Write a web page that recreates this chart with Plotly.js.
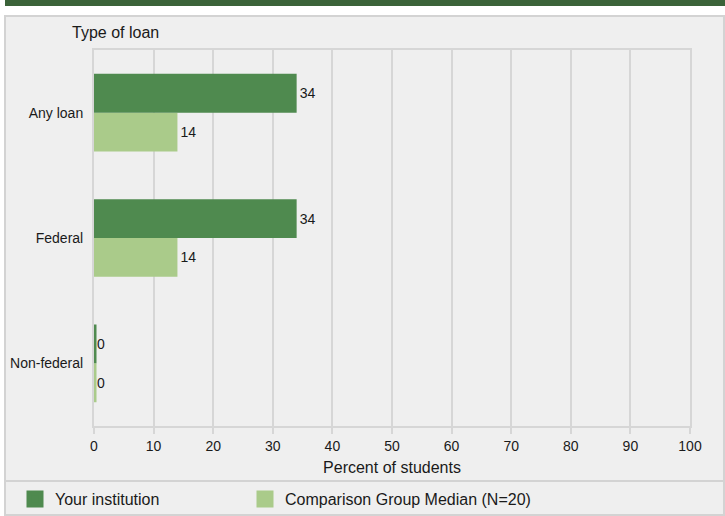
<!DOCTYPE html>
<html>
<head>
<meta charset="utf-8">
<script src="https://cdn.plot.ly/plotly-3.0.1.min.js"></script>
<style>html,body{margin:0;padding:0;background:#fff;}#chart{width:725px;height:516px;}</style>
</head>
<body>
<div id="chart"></div>
<script>
var categories = ["Any loan", "Federal", "Non-federal"];
var yourInstitution = [34, 34, 0];
var comparisonMedian = [14, 14, 0];
var seriesNames = ["Your institution", "Comparison Group Median (N=20)"];
var xTicks = [0, 10, 20, 30, 40, 50, 60, 70, 80, 90, 100];

var W = 725, H = 516, L = 94, R = 690, T = 50, B = 426;
function px(x){ return (x - L) / (R - L); }
function py(y){ return (B - y) / (B - T); }

var fontFam = "Arial, 'Liberation Sans', sans-serif";
var dark = "#4f8a4f", light = "#aacb8a", grid = "#d6d6d6", txt = "#1a1a1a";

// plot bottom-up so the first category ends at the top
var yCats = categories.slice().reverse();
var yourVals = yourInstitution.slice().reverse();
var compVals = comparisonMedian.slice().reverse();
// outline only on zero-value (blank) bars; it also sizes the legend swatch
function outline(vals){ return vals.map(function(v){ return v === 0 ? 5 : 0; }); }

var traces = [
  {type:"bar", orientation:"h", name:seriesNames[1], y:yCats, x:compVals,
   marker:{color:light, line:{color:light, width:outline(compVals)}},
   text:compVals.map(String), textposition:"outside",
   cliponaxis:false, textfont:{size:14, color:txt, family:fontFam}, hoverinfo:"x+y", legend:"legend2"},
  {type:"bar", orientation:"h", name:seriesNames[0], y:yCats, x:yourVals,
   marker:{color:dark, line:{color:dark, width:outline(yourVals)}},
   text:yourVals.map(String), textposition:"outside",
   cliponaxis:false, textfont:{size:14, color:txt, family:fontFam}, hoverinfo:"x+y", legend:"legend"}
];

var legendBase = {orientation: "h", xref: "container", yref: "container", xanchor: "left",
                  y: 1 - 499/H, yanchor: "middle", font: {size: 16, color: txt, family: fontFam},
                  bgcolor: "rgba(0,0,0,0)", borderwidth: 0};

var layout = {
  width: W, height: H,
  margin: {l: L, r: W - R, t: T, b: H - B, pad: 0, autoexpand: false},
  paper_bgcolor: "#ffffff",
  plot_bgcolor: "rgba(0,0,0,0)",
  font: {family: fontFam, size: 14, color: txt},
  barmode: "group", bargap: 0.38, bargroupgap: 0,
  xaxis: {range: [0, 100], tickvals: xTicks, ticktext: xTicks.map(String), showgrid: true,
          gridcolor: grid, gridwidth: 2, zeroline: false, showline: true, linecolor: grid, linewidth: 2,
          mirror: true, ticks: "outside", ticklen: 6, tickwidth: 2, tickcolor: grid,
          tickfont: {size: 14, color: txt, family: fontFam}, fixedrange: true,
          title: {text: "Percent of students", font: {size: 16, color: txt, family: fontFam}, standoff: 9}},
  yaxis: {type: "category", categoryorder: "array", categoryarray: yCats, showgrid: false, zeroline: false,
          showline: true, linecolor: grid, linewidth: 2, mirror: true, ticks: "",
          ticklabelstandoff: 6, tickfont: {size: 14, color: txt, family: fontFam}, fixedrange: true},
  showlegend: true,
  legend: Object.assign({}, legendBase, {x: 15/W}),
  legend2: Object.assign({}, legendBase, {x: 245/W}),
  annotations: [
    {text: "Type of loan", xref: "paper", yref: "paper", x: px(70), y: py(33),
     xanchor: "left", yanchor: "middle", showarrow: false,
     font: {size: 16, color: txt, family: fontFam}}
  ],
  shapes: [
    {type: "rect", xref: "paper", yref: "paper", x0: px(5), x1: px(724), y0: py(515), y1: py(16),
     fillcolor: "#efefef", line: {color: "#d3d3d3", width: 2}, layer: "below"},
    {type: "rect", xref: "paper", yref: "paper", x0: px(5), x1: px(725), y0: py(6), y1: py(0),
     fillcolor: "#3b6339", line: {width: 0}, layer: "below"},
    {type: "line", xref: "paper", yref: "paper", x0: px(5), x1: px(724), y0: py(481), y1: py(481),
     line: {color: "#d3d3d3", width: 2}, layer: "below"}
  ]
};

Plotly.newPlot("chart", traces, layout, {displayModeBar: false, staticPlot: true});
</script>
</body>
</html>
